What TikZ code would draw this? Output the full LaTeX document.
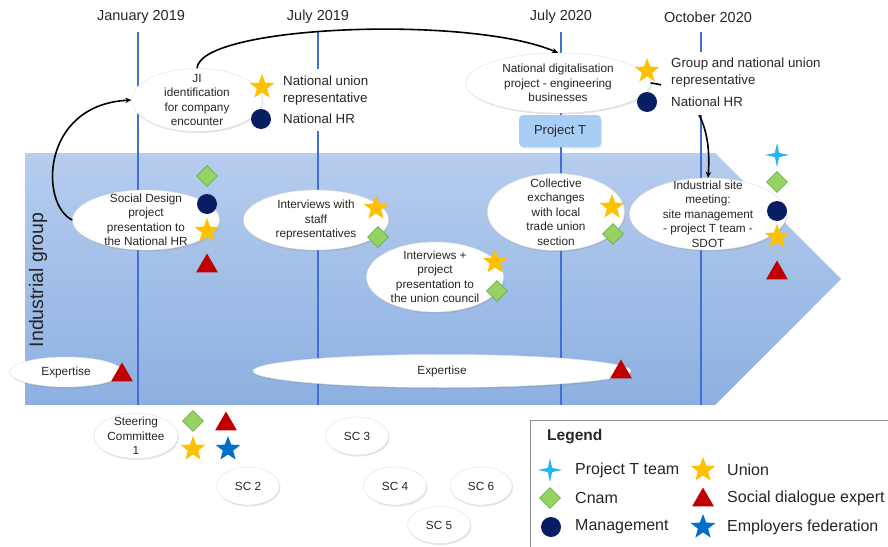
\documentclass[tikz,border=0pt]{standalone}
\usepackage{fontspec}
\setmainfont{Liberation Sans}
\usetikzlibrary{shapes.geometric,shadows,arrows.meta}

\definecolor{arrowtop}{RGB}{182,205,238}
\definecolor{arrowbottom}{RGB}{141,176,225}
\definecolor{monthblue}{RGB}{66,112,210}
\definecolor{unionyellow}{RGB}{255,192,0}
\definecolor{mgmtnavy}{RGB}{8,30,98}
\definecolor{cnamgreen}{RGB}{150,210,100}
\definecolor{cnamedge}{RGB}{100,180,70}
\definecolor{expertred}{RGB}{192,0,0}
\definecolor{fedblue}{RGB}{0,112,200}
\definecolor{teamcyan}{RGB}{40,180,245}
\definecolor{projectfill}{RGB}{168,206,246}
\definecolor{textgray}{RGB}{38,38,38}

\newcommand{\evfont}{\fontsize{11.8}{14.5}\selectfont}
\newcommand{\monthfont}{\fontsize{14.5}{17}\selectfont}
\newcommand{\whofont}{\fontsize{13.3}{17}\selectfont}
\newcommand{\legfont}{\fontsize{16}{19}\selectfont}

\tikzset{
  monthrule/.style={draw=monthblue, line width=2.6pt},
  monthlabel/.style={text=textgray, font=\monthfont, inner sep=0pt},
  event/.style={ellipse, fill=white, draw=black!12, line width=0.4pt, inner sep=-12pt,
    align=center, text=textgray, font=\evfont,
    drop shadow={shadow xshift=1pt, shadow yshift=-1.5pt, opacity=0.22}},
  projectbox/.style={rectangle, rounded corners=4pt, fill=projectfill, minimum width=82pt,
    minimum height=32pt, text=textgray, font=\fontsize{13}{15}\selectfont,
    drop shadow={shadow xshift=1pt, shadow yshift=-1.5pt, opacity=0.18}},
  whobox/.style={anchor=west, fill=white, align=left, text=textgray, font=\whofont,
    inner xsep=3pt, inner ysep=0pt},
  flow/.style={draw=black, line width=1.6pt, -{Stealth[length=6pt,width=5.5pt]}},
  unionstar/.style={star, star points=5, star point ratio=2.4, fill=unionyellow,
    minimum size=26pt, inner sep=0pt},
  fedstar/.style={unionstar, fill=fedblue},
  mgmtdot/.style={circle, fill=mgmtnavy, minimum size=20pt, inner sep=0pt},
  cnamdiamond/.style={diamond, fill=cnamgreen, draw=cnamedge, line width=0.8pt,
    minimum size=21pt, inner sep=0pt},
  experttri/.style={regular polygon, regular polygon sides=3, fill=expertred,
    minimum size=25pt, inner sep=0pt},
  teamcross/.style={star, star points=4, star point ratio=4, fill=teamcyan,
    minimum size=24pt, inner sep=0pt},
  legendtext/.style={anchor=west, text=textgray, font=\legfont, inner sep=0pt},
}

\begin{document}
\begin{tikzpicture}[x=1pt,y=-1pt]
\useasboundingbox (0,0) rectangle (888,546);
\clip (0,0) rectangle (888,546);

% Drawing the big arrow of the industrial group
\shade[top color=arrowtop, bottom color=arrowbottom] (25,153) -- (715,153) -- (841,279) -- (715,405) -- (25,405) -- cycle;%

% Drawing the month rules
\foreach \x in {138,318,561,701} {\draw[monthrule] (\x,32) -- (\x,405);}%

% Month labels
\node[monthlabel] (jan19) at (141,17) {January 2019};%
\node[monthlabel] (jul19) at (318,17) {July 2019};%
\node[monthlabel] (jul20) at (561,17) {July 2020};%
\node[monthlabel] (oct20) at (708,17) {October 2020};%

% Side title
\node[rotate=90, text=textgray, font=\fontsize{19.5}{22}\selectfont] (indgroup) at (38,280) {Industrial group};%

% Drawing the events above the arrow
\node[event, minimum width=131pt, minimum height=63pt] (ji) at (197,100) {JI\\identification\\for company\\encounter};%
\node[event, minimum width=185pt, minimum height=60pt] (digital) at (558,83) {National digitalisation\\project - engineering\\businesses};%
\node[projectbox] (projt) at (560,131) {Project T};%

% Drawing the events in the arrow
\node[event, minimum width=147pt, minimum height=60pt] (social) at (146,220) {Social Design\\project\\presentation to\\the National HR};%
\node[event, minimum width=145pt, minimum height=60pt] (staff) at (316,220) {Interviews with\\staff\\representatives};%
\node[event, minimum width=137pt, minimum height=70pt] (council) at (435,277) {Interviews +\\project\\presentation to\\the union council};%
\node[event, minimum width=137pt, minimum height=77pt] (exchanges) at (556,212) {Collective\\exchanges\\with local\\trade union\\section};%
\node[event, minimum width=157pt, minimum height=72pt] (site) at (708,214) {Industrial site\\meeting:\\site management\\- project T team -\\SDOT};%
\node[event, minimum width=113pt, minimum height=30pt] (expert-a) at (66,372) {Expertise};%
\node[event, minimum width=378pt, minimum height=33pt] (expert-b) at (442,371) {Expertise};%

% Drawing the steering committees
\node[event, minimum width=84pt, minimum height=45pt, text depth=-2pt] (sc1) at (136,436) {Steering\\Committee\\1};%
\node[event, minimum width=63pt, minimum height=38pt] (sc2) at (248,486) {SC 2};%
\node[event, minimum width=63pt, minimum height=38pt] (sc3) at (357,436) {SC 3};%
\node[event, minimum width=63pt, minimum height=38pt] (sc4) at (395,486) {SC 4};%
\node[event, minimum width=63pt, minimum height=37pt] (sc5) at (439,525) {SC 5};%
\node[event, minimum width=62pt, minimum height=38pt] (sc6) at (481,486) {SC 6};%

% Drawing the flow between events
\draw[flow] (social.west) .. controls (40,205) and (40,105) .. (ji.west);%
\draw[flow] (ji.north) .. controls (200,25) and (470,15) .. (digital.north);%
\draw[flow] (digital.east) .. controls (695,88) and (712,125) .. (site.north);%

% Who was there
\node[whobox, minimum height=44pt] (ji-unionrep) at (280,90.5) {National union\\representative};%
\node[whobox, minimum height=24pt] (ji-hr) at (280,119) {National HR};%
\node[whobox, minimum height=42pt, inner xsep=10pt] (dig-unionrep) at (661,73) {Group and national union\\representative};%
\node[whobox, minimum height=26pt, inner xsep=10pt] (dig-hr) at (661,102) {National HR};%

% Marking actors by symbols
\node[unionstar] (ji-star) at (262,87) {};%
\node[mgmtdot] (ji-dot) at (261,119) {};%
\node[unionstar] (dig-star) at (647,71) {};%
\node[mgmtdot] (dig-dot) at (647,102) {};%

\node[cnamdiamond] (soc-diam) at (207,176) {};%
\node[mgmtdot] (soc-dot) at (207,204) {};%
\node[unionstar] (soc-star) at (207,231) {};%
\node[experttri] (soc-tri) at (207,266) {};%

\node[unionstar] (staff-star) at (376,208) {};%
\node[cnamdiamond] (staff-diam) at (378,237) {};%

\node[unionstar] (cou-star) at (495,262) {};%
\node[cnamdiamond] (cou-diam) at (497,291) {};%

\node[unionstar] (exc-star) at (612,207) {};%
\node[cnamdiamond] (exc-diam) at (613,234) {};%

\node[teamcross] (site-cross) at (777,155) {};%
\node[cnamdiamond] (site-diam) at (777,182) {};%
\node[mgmtdot] (site-dot) at (777,211) {};%
\node[unionstar] (site-star) at (777,237) {};%
\node[experttri] (site-tri) at (777,273) {};%

\node[experttri] (expa-tri) at (122,375) {};%
\node[experttri] (expb-tri) at (621,372) {};%

\node[cnamdiamond] (sc1-diam) at (193,421) {};%
\node[experttri] (sc1-tri) at (226,424) {};%
\node[unionstar] (sc1-star) at (193,449) {};%
\node[fedstar] (sc1-fed) at (228,449) {};%

% Drawing the legend
\draw[draw=black!45, line width=1pt, fill=white] (530,420) rectangle (900,560);%
\node[anchor=west, text=textgray, font=\fontsize{15.5}{18}\selectfont\bfseries, inner sep=0pt] (legtitle) at (547,437) {Legend};%
\node[teamcross] (leg-cross) at (550,470) {};%
\node[legendtext] (leg-team) at (575,470) {Project T team};%
\node[cnamdiamond] (leg-diam) at (550,498) {};%
\node[legendtext] (leg-cnam) at (575,498) {Cnam};%
\node[mgmtdot] (leg-dot) at (551,527) {};%
\node[legendtext] (leg-mgmt) at (575,527) {Management};%
\node[unionstar] (leg-star) at (703,470) {};%
\node[legendtext] (leg-union) at (727,470) {Union};%
\node[experttri] (leg-tri) at (703,500) {};%
\node[legendtext] (leg-expert) at (727,498) {Social dialogue expert};%
\node[fedstar] (leg-fed) at (703,527) {};%
\node[legendtext] (leg-emp) at (727,527) {Employers federation};%
\end{tikzpicture}
\end{document}
